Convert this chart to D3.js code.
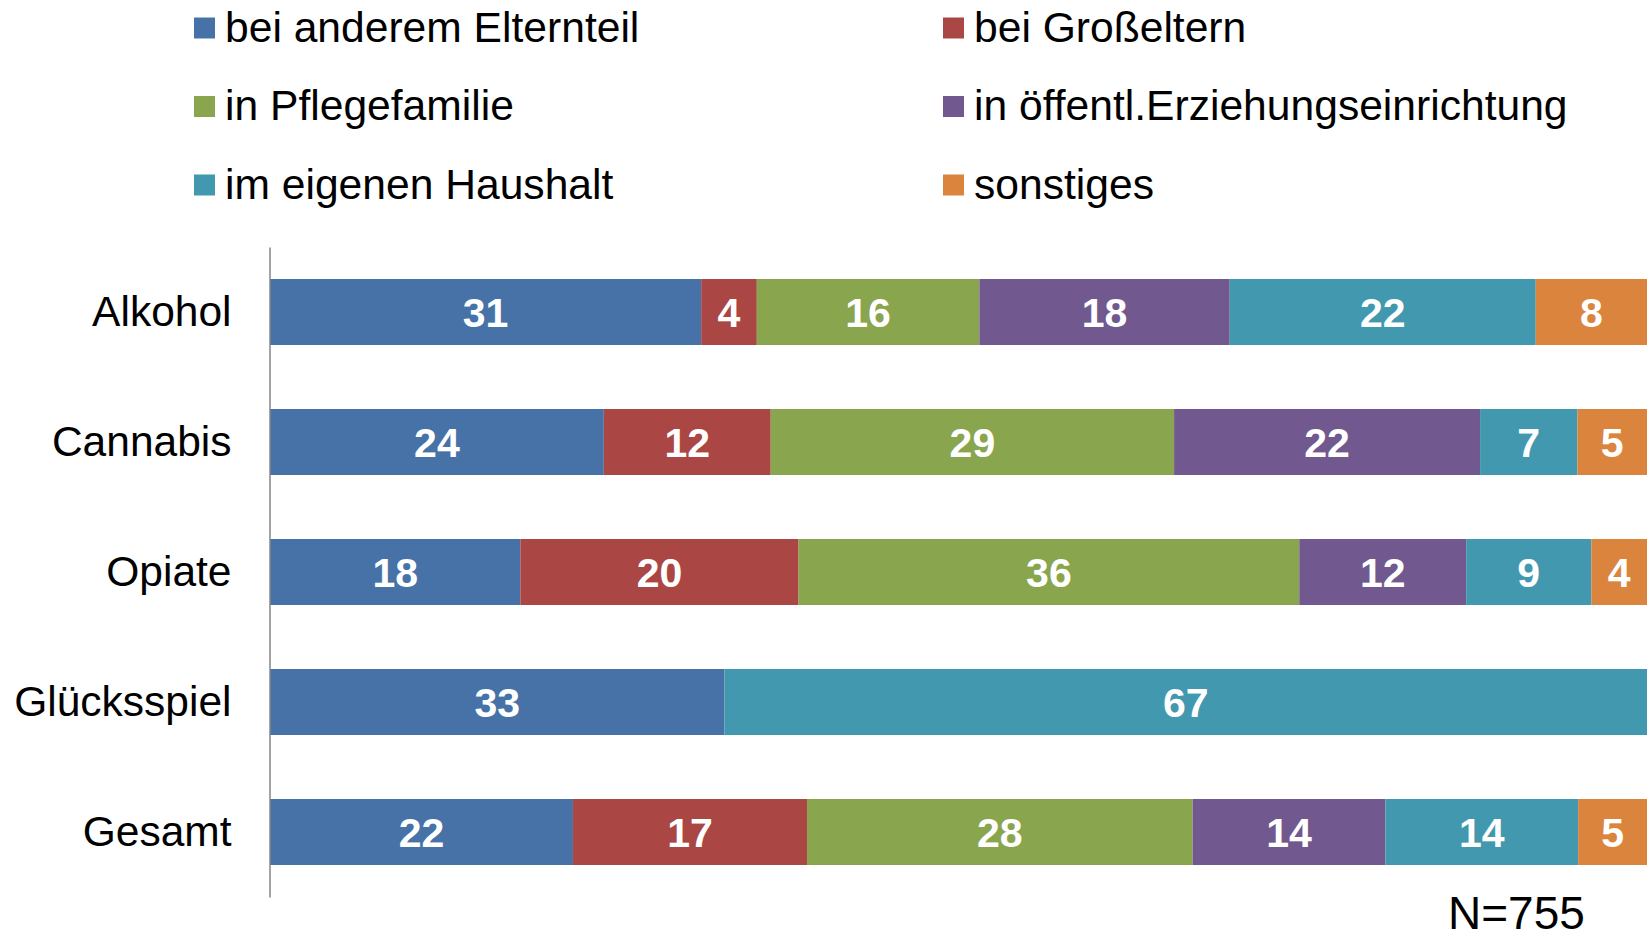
<!DOCTYPE html>
<html>
<head>
<meta charset="utf-8">
<script src="https://cdn.jsdelivr.net/npm/d3@7"></script>
<style>
  html, body { margin: 0; padding: 0; background: #fff; }
  svg { display: block; font-family: "Liberation Sans", Arial, sans-serif; }
</style>
</head>
<body>
<svg id="chart" width="1648" height="933"></svg>
<script>
const categories = ["Alkohol", "Cannabis", "Opiate", "Glücksspiel", "Gesamt"];
const seriesNames = [
  "bei anderem Elternteil",
  "bei Großeltern",
  "in Pflegefamilie",
  "in öffentl.Erziehungseinrichtung",
  "im eigenen Haushalt",
  "sonstiges"
];
const anderesElternteil = [31, 24, 18, 33, 22];
const grosseltern       = [4, 12, 20, 0, 17];
const pflegefamilie     = [16, 29, 36, 0, 28];
const erziehungseinr    = [18, 22, 12, 0, 14];
const eigenerHaushalt   = [22, 7, 9, 67, 14];
const sonstiges         = [8, 5, 4, 0, 5];
const seriesColors = ["#4672A8", "#AA4643", "#89A54E", "#71588F", "#4198AF", "#DB843D"];
const noteText = "N=755";

const seriesValues = [anderesElternteil, grosseltern, pflegefamilie, erziehungseinr, eigenerHaushalt, sonstiges];
const rows = categories.map((c, i) => {
  const r = { category: c };
  seriesNames.forEach((s, j) => r[s] = seriesValues[j][i]);
  return r;
});

const svg = d3.select("#chart");
const W = 1648, H = 933;
svg.append("rect").attr("width", W).attr("height", H).attr("fill", "#fff");

const x = d3.scaleLinear().domain([0, 1]).range([270, 1647]);
const y = d3.scaleBand().domain(categories).range([247, 897])
  .paddingInner(0.4923).paddingOuter(0.24615);

const stack = d3.stack().keys(seriesNames).offset(d3.stackOffsetExpand);
const stacked = stack(rows);

const layers = svg.append("g").selectAll("g").data(stacked).join("g")
  .attr("fill", (d, i) => seriesColors[i]);

layers.selectAll("rect").data(d => d).join("rect")
  .attr("x", d => x(d[0]))
  .attr("y", d => y(d.data.category))
  .attr("width", d => Math.max(0, x(d[1]) - x(d[0])))
  .attr("height", y.bandwidth());

layers.each(function(layer) {
  d3.select(this).selectAll("text").data(layer.filter(d => d.data[layer.key] > 0)).join("text")
    .attr("x", d => (x(d[0]) + x(d[1])) / 2)
    .attr("y", d => y(d.data.category) + y.bandwidth() / 2)
    .attr("dy", "0.37em")
    .attr("text-anchor", "middle")
    .attr("fill", "#fff")
    .attr("font-weight", "bold")
    .attr("font-size", 41)
    .text(d => d.data[layer.key]);
});

// y axis
const yAxis = d3.axisLeft(y).tickSize(0).tickPadding(38);
const ag = svg.append("g").attr("transform", "translate(269.5,0)").call(yAxis);
ag.select(".domain").attr("stroke", "#868686").attr("stroke-width", 1.5);
ag.selectAll(".tick text")
  .attr("font-family", "Liberation Sans, Arial, sans-serif")
  .attr("font-size", 42.5).attr("fill", "#000").attr("dy", "0.34em");

// legend
const legendCols = [194, 943];
const legendRows = [28, 106.5, 185];
const lg = svg.append("g").selectAll("g").data(seriesNames).join("g")
  .attr("transform", (d, i) => `translate(${legendCols[i % 2]},${legendRows[Math.floor(i / 2)]})`);
lg.append("rect").attr("x", 0).attr("y", -10.5).attr("width", 21).attr("height", 21)
  .attr("fill", (d, i) => seriesColors[i]);
lg.append("text").attr("x", 31).attr("y", 13.5)
  .attr("font-size", 42.6).attr("fill", "#000").text(d => d);

// note
svg.append("text").attr("x", 1448).attr("y", 929)
  .attr("font-size", 46).attr("fill", "#000").text(noteText);
</script>
</body>
</html>
